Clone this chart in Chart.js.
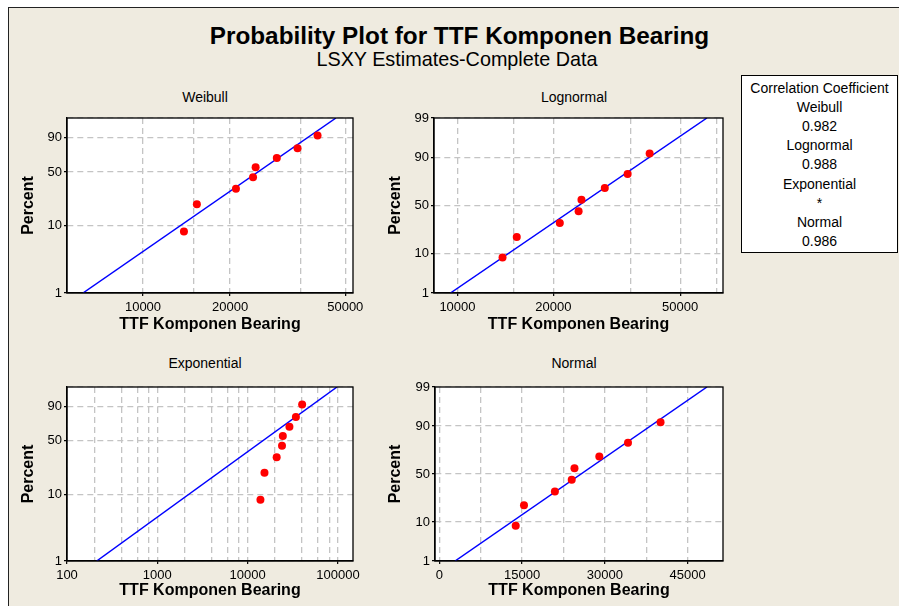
<!DOCTYPE html>
<html>
<head>
<meta charset="utf-8">
<script src="https://cdn.jsdelivr.net/npm/chart.js@4.4.1/dist/chart.umd.min.js"></script>
<style>
  html, body { margin: 0; padding: 0; background: #ffffff; overflow: hidden; }
  body { width: 899px; height: 606px; position: relative; font-family: 'Liberation Sans', Arial, sans-serif; color: #000; }
  #frame { position: absolute; left: 8px; top: 7px; width: 920px; height: 620px; background: #EFEBE0; border-left: 1px solid #222; border-top: 1px solid #222; }
  .txt { position: absolute; white-space: nowrap; line-height: 1; transform: translateX(-50%); }
  canvas { position: absolute; }
  #corr { position: absolute; left: 741px; top: 75px; width: 157px; height: 178px; box-sizing: border-box; border: 1px solid #000; background: #fff; text-align: center; font-size: 14px; line-height: 19.2px; padding-top: 2.5px; }
</style>
</head>
<body>
<div id="frame"></div>
<div class="txt" style="left:459.5px; top:23.5px; font-size:24.3px; font-weight:bold;">Probability Plot for TTF Komponen Bearing</div>
<div class="txt" style="left:457px; top:49.5px; font-size:19.8px;">LSXY Estimates-Complete Data</div>
<div class="txt" style="left:205px; top:90px; font-size:14px;">Weibull</div>
<div class="txt" style="left:574px; top:90px; font-size:14px;">Lognormal</div>
<div class="txt" style="left:205px; top:356px; font-size:14px;">Exponential</div>
<div class="txt" style="left:574px; top:356px; font-size:14px;">Normal</div>
<div id="corr"></div>
<canvas id="cWeibull" width="375" height="230" style="left:0px; top:110px;"></canvas>
<canvas id="cLognormal" width="370" height="230" style="left:375px; top:110px;"></canvas>
<canvas id="cExponential" width="375" height="227" style="left:0px; top:379px;"></canvas>
<canvas id="cNormal" width="370" height="227" style="left:375px; top:379px;"></canvas>
<script>
// ---------------- data ----------------
const ttf = [13850, 15350, 20950, 24000, 24500, 29000, 34200, 40100];
const percent = [8.3, 20.2, 32.1, 44.0, 56.0, 67.9, 79.8, 91.7];

// fitted lines: TTF at 1% and at 99%
const fitPercent = [1, 99];
const weibullFit = [6200, 46440];
const lognormalFit = [9505, 60670];
const exponentialFit = [213, 97630];
const normalFit = [2850, 48520];

// axis ticks (labelled) and grid positions
const weibullXTicks = [10000, 20000, 50000];
const weibullXGrid = [10000, 15000, 20000, 35000, 50000];
const lognormalXTicks = [10000, 20000, 50000];
const lognormalXGrid = [10000, 15000, 20000, 35000, 50000, 65000];
const exponentialXTicks = [100, 1000, 10000, 100000];
const exponentialXGrid = [100, 200, 400, 600, 800, 1000, 2000, 4000, 6000, 8000, 10000, 20000, 40000, 60000, 80000, 100000];
const normalXTicks = [0, 15000, 30000, 45000];
const normalXGrid = [0, 7500, 15000, 22500, 30000, 37500, 45000];
const weibullYTicks = [1, 10, 50, 90];
const normalYTicks = [1, 10, 50, 90, 99];
const yGrid = [1, 10, 50, 90, 99];

// axis ranges
const weibullXRange = [5462, 53170];
const lognormalXRange = [8441, 68130];
const exponentialXRange = [100, 146600];
const normalXRange = [-780, 51420];
const yRange = [1, 99];

const corrNames = ['Weibull', 'Lognormal', 'Exponential', 'Normal'];
const corrValues = ['0.982', '0.988', '*', '0.986'];

// ---------------- probability scale transforms ----------------
function probit(p) {
  const a = [-3.969683028665376e+01, 2.209460984245205e+02, -2.759285104469687e+02, 1.383577518672690e+02, -3.066479806614716e+01, 2.506628277459239e+00];
  const b = [-5.447609879822406e+01, 1.615858368580409e+02, -1.556989798598866e+02, 6.680131188771972e+01, -1.328068155288572e+01];
  const c = [-7.784894002430293e-03, -3.223964580411365e-01, -2.400758277161838e+00, -2.549732539343734e+00, 4.374664141464968e+00, 2.938163982698783e+00];
  const d = [7.784695709041462e-03, 3.224671290700398e-01, 2.445134137142996e+00, 3.754408661907416e+00];
  const pl = 0.02425, ph = 1 - pl;
  let q, r;
  if (p < pl) {
    q = Math.sqrt(-2 * Math.log(p));
    return (((((c[0]*q+c[1])*q+c[2])*q+c[3])*q+c[4])*q+c[5]) / ((((d[0]*q+d[1])*q+d[2])*q+d[3])*q+1);
  }
  if (p <= ph) {
    q = p - 0.5; r = q * q;
    return (((((a[0]*r+a[1])*r+a[2])*r+a[3])*r+a[4])*r+a[5])*q / (((((b[0]*r+b[1])*r+b[2])*r+b[3])*r+b[4])*r+1);
  }
  q = Math.sqrt(-2 * Math.log(1 - p));
  return -(((((c[0]*q+c[1])*q+c[2])*q+c[3])*q+c[4])*q+c[5]) / ((((d[0]*q+d[1])*q+d[2])*q+d[3])*q+1);
}
const yWeibull = pct => Math.log(-Math.log(1 - pct / 100));
const yNormal = pct => probit(pct / 100);
const xLog = v => Math.log10(v);
const xLin = v => v;

// ---------------- correlation box ----------------
(function () {
  const box = document.getElementById('corr');
  const lines = ['Correlation Coefficient'];
  corrNames.forEach((n, i) => { lines.push(n); lines.push(corrValues[i]); });
  lines.forEach(t => { const d = document.createElement('div'); d.textContent = t; box.appendChild(d); });
})();

// ---------------- charts ----------------
Chart.defaults.font.family = "'Liberation Sans', Arial, sans-serif";
Chart.defaults.color = '#000';

const framePlugin = {
  id: 'frame',
  beforeDraw(chart) {
    const a = chart.chartArea, ctx = chart.ctx;
    ctx.save(); ctx.fillStyle = '#ffffff';
    ctx.fillRect(a.left, a.top, a.right - a.left, a.bottom - a.top);
    ctx.restore();
  },
  afterDraw(chart) {
    const a = chart.chartArea, ctx = chart.ctx;
    ctx.save(); ctx.strokeStyle = '#000'; ctx.lineWidth = 1.3;
    ctx.strokeRect(a.left, a.top, a.right - a.left, a.bottom - a.top);
    ctx.restore();
  }
};

function makePanel(id, o) {
  const pts = ttf.map((t, i) => ({ x: o.tx(t), y: o.ty(percent[i]) }));
  const line = o.fit.map((t, i) => ({ x: o.tx(t), y: o.ty(fitPercent[i]) }));
  const gridStyle = {
    color: '#C4C4C4', lineWidth: 1.3,
    tickLength: 3, tickWidth: 1.2
  };
  new Chart(document.getElementById(id), {
    type: 'scatter',
    data: {
      datasets: [
        { data: pts, backgroundColor: '#FF0000', borderColor: '#FF0000', borderWidth: 0, pointRadius: 4, pointHoverRadius: 4 },
        { data: line, showLine: true, borderColor: '#0000FF', borderWidth: 1.5, pointRadius: 0, fill: false }
      ]
    },
    options: {
      responsive: false, animation: false,
      layout: { padding: { top: 8, right: 22, left: 0, bottom: 0 } },
      plugins: { legend: { display: false }, tooltip: { enabled: false } },
      scales: {
        x: {
          type: 'linear', min: o.tx(o.xRange[0]), max: o.tx(o.xRange[1]),
          afterBuildTicks: s => { s.ticks = o.xGrid.map(v => ({ value: o.tx(v) })); },
          afterFit: s => { s.height = o.xAxisHeight; s.paddingLeft = 0; s.paddingRight = 0; s.paddingTop = 0; s.paddingBottom = 0; },
          ticks: {
            autoSkip: false, maxRotation: 0, minRotation: 0, padding: 4,
            font: { size: 13 }, color: '#000',
            callback: (val, i) => o.xTicks.includes(o.xGrid[i]) ? String(o.xGrid[i]) : ''
          },
          grid: Object.assign({}, gridStyle, {
            tickColor: c => (c.index !== undefined && o.xTicks.includes(o.xGrid[c.index])) ? '#000' : 'rgba(0,0,0,0)'
          }),
          border: { display: true, color: '#000', width: 1.3, dash: [6, 4] },
          title: { display: true, text: 'TTF Komponen Bearing', font: { size: 16, weight: 'bold' }, color: '#000', padding: { top: 0, bottom: 6 } }
        },
        y: {
          type: 'linear', min: o.ty(yRange[0]), max: o.ty(yRange[1]),
          afterBuildTicks: s => { s.ticks = yGrid.map(v => ({ value: o.ty(v) })); },
          afterFit: s => { s.width = o.yAxisWidth; s.paddingLeft = 0; s.paddingRight = 0; s.paddingTop = 0; s.paddingBottom = 0; },
          ticks: {
            autoSkip: false, padding: 2, font: { size: 13 }, color: '#000',
            callback: (val, i) => o.yTicks.includes(yGrid[i]) ? String(yGrid[i]) : ''
          },
          grid: Object.assign({}, gridStyle, {
            tickColor: c => (c.index !== undefined && o.yTicks.includes(yGrid[c.index])) ? '#000' : 'rgba(0,0,0,0)'
          }),
          border: { display: true, color: '#000', width: 1.3, dash: [6, 4] },
          title: { display: true, text: 'Percent', font: { size: 16, weight: 'bold' }, color: '#000', padding: { top: o.yTitlePad, bottom: 0 } }
        }
      }
    },
    plugins: [framePlugin]
  });
}

makePanel('cWeibull', { tx: xLog, ty: yWeibull, xRange: weibullXRange, xGrid: weibullXGrid, xTicks: weibullXTicks, yTicks: weibullYTicks, fit: weibullFit, yAxisWidth: 67, xAxisHeight: 47, yTitlePad: 18.7 });
makePanel('cLognormal', { tx: xLog, ty: yNormal, xRange: lognormalXRange, xGrid: lognormalXGrid, xTicks: lognormalXTicks, yTicks: normalYTicks, fit: lognormalFit, yAxisWidth: 59, xAxisHeight: 47, yTitlePad: 11.4 });
makePanel('cExponential', { tx: xLog, ty: yWeibull, xRange: exponentialXRange, xGrid: exponentialXGrid, xTicks: exponentialXTicks, yTicks: weibullYTicks, fit: exponentialFit, yAxisWidth: 67, xAxisHeight: 45, yTitlePad: 18.7 });
makePanel('cNormal', { tx: xLin, ty: yNormal, xRange: normalXRange, xGrid: normalXGrid, xTicks: normalXTicks, yTicks: normalYTicks, fit: normalFit, yAxisWidth: 60, xAxisHeight: 45, yTitlePad: 11.4 });
</script>
</body>
</html>
